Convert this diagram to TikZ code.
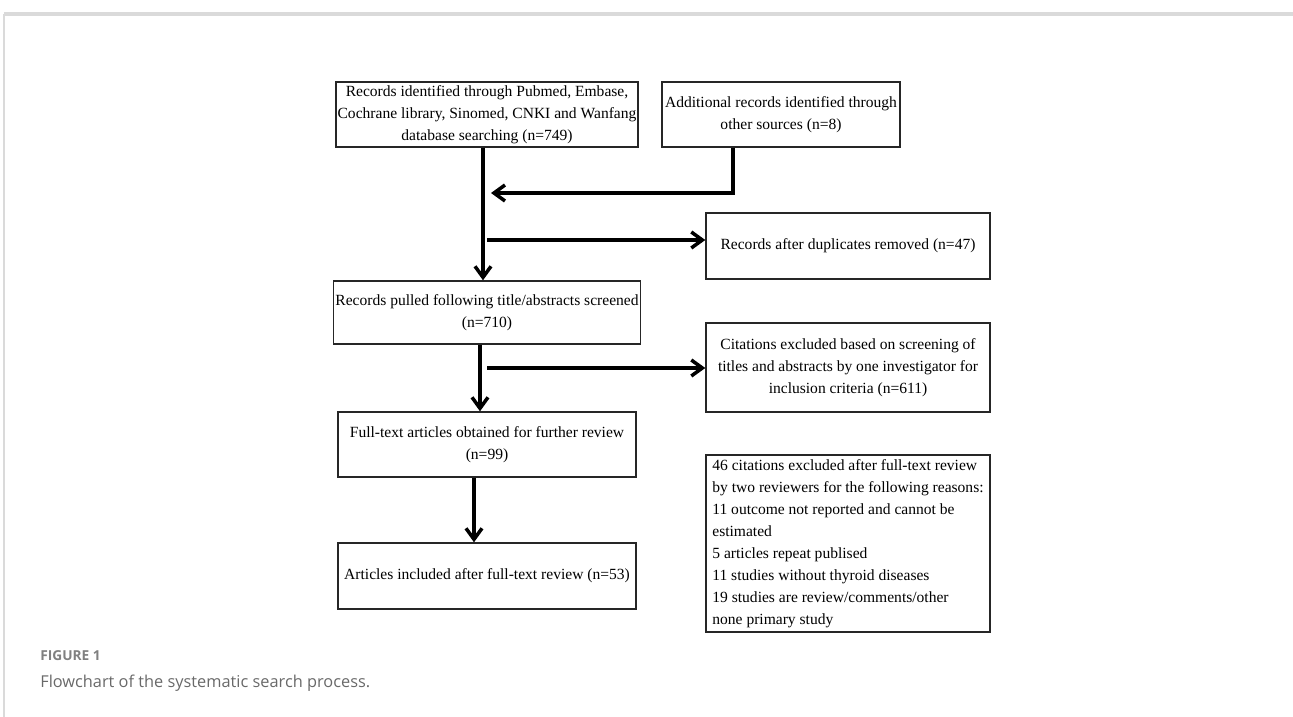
\documentclass[tikz,border=0pt]{standalone}
\usepackage{fontspec}
\setmainfont{Liberation Serif}
\newfontfamily\capfont{Open Sans}
\usetikzlibrary{arrows.meta}
\usetikzlibrary{calc}
\definecolor{capgray}{RGB}{105,105,105}
\definecolor{rulegray}{RGB}{218,218,218}
\tikzstyle{box} = [draw=black!85, line width=0.8pt, rectangle, align=center, inner sep=1pt, font=\fontsize{8.85pt}{12.5pt}\selectfont]
\tikzstyle{flow} = [line width=2pt, ->, >={Straight Barb[length=0.22cm,width=0.32cm]}]

\begin{document}
\begin{tikzpicture}[x=0.2cm,y=0.2cm]
\useasboundingbox (0,0) rectangle (129.3,-71.7);
\draw[rulegray, line width=2pt] (0.4,-1.4) -- (129.3,-1.4);
    \draw[rulegray, line width=0.6pt] (0.4,-1.4) -- (0.4,-71.7);

\node[box, minimum width=5.96cm, minimum height=1.3cm] (srch) at (48.7,-11.45)
    {Records identified through Pubmed, Embase,\\Cochrane library, Sinomed, CNKI and Wanfang\\database searching (n=749)};
\node[box, inner xsep=0pt, minimum width=4.76cm, minimum height=1.3cm] (othr) at (78.1,-11.45)
    {Additional records identified through\\other sources (n=8)};
\node[box, minimum width=5.68cm, minimum height=1.32cm] (dupl) at (84.8,-24.6)
    {Records after duplicates removed (n=47)};
\node[box, minimum width=5.96cm, minimum height=1.26cm] (scrn) at (48.7,-31.25)
    {Records pulled following title/abstracts screened\\(n=710)};
\node[box, minimum width=5.68cm, minimum height=1.78cm] (excl) at (84.8,-36.75)
    {Citations excluded based on screening of\\titles and abstracts by one investigator for\\inclusion criteria (n=611)};
\node[box, minimum width=5.96cm, minimum height=1.3cm] (full) at (48.7,-44.45)
    {Full-text articles obtained for further review\\(n=99)};
\node[box, minimum width=5.96cm, minimum height=1.32cm] (incl) at (48.7,-57.6)
    {Articles included after full-text review (n=53)};
\node[box, align=left, minimum width=5.68cm, minimum height=3.54cm] (rsn) at (84.8,-54.35)
    {46 citations excluded after full-text review\\by two reviewers for the following reasons:\\11 outcome not reported and cannot be\\estimated\\5 articles repeat publised\\11 studies without thyroid diseases\\19 studies are review/comments/other\\none primary study};

% junctions
\coordinate (o1) at (73.3,-19.3);
\coordinate (t1) at (49.1,-19.3);
\coordinate (s1) at (48.7,-24.0);
\coordinate (s2) at (48.7,-36.8);

    \draw[flow] ([xshift=-0.08cm]srch.south) -- ([xshift=-0.08cm]scrn.north);
    \draw[flow] (othr.south -| o1) -- (o1) -- (t1);
    \draw[flow] (s1) -- (s1 -| dupl.west);
    \draw[flow] ([xshift=-0.14cm]scrn.south) -- ([xshift=-0.14cm]full.north);
    \draw[flow] (s2) -- (s2 -| excl.west);
    \draw[flow] ([xshift=-0.26cm]full.south) -- ([xshift=-0.26cm]incl.north);

\node[anchor=base west, inner sep=0, text=capgray!85, font=\capfont\bfseries\fontsize{7.8pt}{9pt}\selectfont] (fig) at (4.0,-66.0) {FIGURE 1};
\node[anchor=base west, inner sep=0, text=capgray, font=\capfont\fontsize{9.3pt}{11pt}\selectfont] (cap) at (4.0,-68.7) {Flowchart of the systematic search process.};
\end{tikzpicture}
\end{document}
